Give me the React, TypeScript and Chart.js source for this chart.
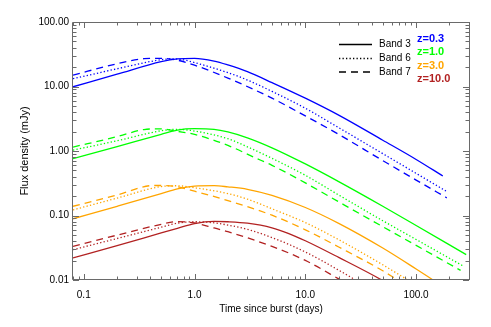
import React, { useEffect, useRef } from "react";
import { Chart, registerables } from "chart.js";

Chart.register(...registerables);

const FONT = '"Liberation Sans", Arial, Helvetica, sans-serif';

// Tick labels
const X_TICKS = [0.1, 1, 10, 100];
const X_TICK_LABELS = ["0.1", "1.0", "10.0", "100.0"];
const Y_TICKS = [0.01, 0.1, 1, 10, 100];
const Y_TICK_LABELS = ["0.01", "0.10", "1.00", "10.00", "100.00"];

const X_RANGE = [0.08, 300];
const Y_RANGE = [0.01, 100];

// Legend texts
const BANDS = ["Band 3", "Band 6", "Band 7"];
const REDSHIFTS = ["z=0.3", "z=1.0", "z=3.0", "z=10.0"];
const Z_COLORS = ["#0000ff", "#00ff00", "#ffa500", "#b22222"];

// Light curves: [time (days), flux density (mJy)]
const Z03_B3 = [[0.08, 9.9], [0.2, 15.5], [0.5, 24.3], [0.7, 26.8], [1, 27.3], [1.5, 24.8], [2, 21.6], [3, 17.0], [5, 11.5], [10, 6.6], [20, 3.6], [50, 1.47], [100, 0.74], [174, 0.41]];
const Z03_B6 = [[0.08, 13.2], [0.2, 18.8], [0.5, 26.0], [0.65, 26.8], [0.8, 25.8], [1, 23.5], [2, 16.4], [3, 12.6], [5, 8.4], [10, 4.6], [20, 2.3], [50, 0.91], [100, 0.45], [187, 0.238]];
const Z03_B7 = [[0.08, 15.0], [0.2, 22.5], [0.35, 27.0], [0.5, 27.3], [0.7, 25.6], [1, 21.4], [2, 13.5], [5, 6.6], [10, 3.5], [20, 1.81], [50, 0.71], [100, 0.354], [189, 0.188]];

const Z1_B3 = [[0.08, 0.76], [0.2, 1.17], [0.5, 1.81], [0.7, 2.11], [1, 2.22], [1.5, 2.17], [2, 1.98], [3, 1.6], [5, 1.12], [10, 0.63], [20, 0.335], [50, 0.139], [100, 0.07], [200, 0.035], [283, 0.0247]];
const Z1_B6 = [[0.08, 1.03], [0.2, 1.44], [0.5, 2.06], [0.7, 2.17], [1, 2.04], [2, 1.55], [3, 1.16], [5, 0.77], [10, 0.42], [20, 0.208], [50, 0.083], [100, 0.0425], [200, 0.0217], [264, 0.0166]];
const Z1_B7 = [[0.08, 1.15], [0.2, 1.67], [0.35, 2.15], [0.5, 2.21], [0.7, 2.02], [1, 1.81], [2, 1.22], [3.5, 0.79], [5, 0.6], [10, 0.32], [20, 0.163], [50, 0.067], [100, 0.0344], [252, 0.0141]];

const Z3_B3 = [[0.08, 0.089], [0.2, 0.139], [0.5, 0.218], [0.7, 0.258], [1, 0.285], [1.5, 0.29], [2, 0.278], [3, 0.255], [5, 0.205], [10, 0.133], [20, 0.0755], [50, 0.0313], [100, 0.0148], [142, 0.01], [200, 0.0068]];
const Z3_B6 = [[0.08, 0.122], [0.2, 0.186], [0.5, 0.281], [0.7, 0.289], [1, 0.269], [2, 0.219], [3, 0.179], [5, 0.127], [10, 0.0776], [20, 0.0422], [50, 0.0172], [84, 0.01], [100, 0.0083]];
const Z3_B7 = [[0.08, 0.139], [0.2, 0.208], [0.43, 0.292], [0.5, 0.292], [0.7, 0.279], [1, 0.238], [2, 0.17], [5, 0.101], [10, 0.06], [20, 0.0325], [50, 0.0139], [68, 0.01], [100, 0.0066]];

const Z10_B3 = [[0.08, 0.022], [0.2, 0.0341], [0.5, 0.0536], [0.7, 0.0632], [1, 0.075], [1.5, 0.081], [2, 0.08], [3, 0.076], [5, 0.0645], [7, 0.053], [10, 0.0406], [20, 0.0224], [50, 0.0098], [80, 0.006]];
const Z10_B6 = [[0.08, 0.0295], [0.2, 0.044], [0.5, 0.0658], [0.7, 0.0762], [1, 0.08], [1.5, 0.077], [2, 0.071], [3, 0.061], [5, 0.0455], [10, 0.0272], [20, 0.0142], [50, 0.0056]];
const Z10_B7 = [[0.08, 0.0332], [0.2, 0.0496], [0.5, 0.073], [0.7, 0.0805], [1, 0.0767], [1.5, 0.0641], [2, 0.056], [5, 0.0332], [10, 0.0201], [20, 0.0104], [50, 0.0042]];

const SERIES = [
  [Z03_B3, Z03_B6, Z03_B7],
  [Z1_B3, Z1_B6, Z1_B7],
  [Z3_B3, Z3_B6, Z3_B7],
  [Z10_B3, Z10_B6, Z10_B7],
];

const DASHES: number[][] = [[], [1.3, 2.2], [7, 5]];
const AXIS_COLOR = "#6a6a6a";
const LINE_W = 1.3;

const frameTicks = {
  id: "frameTicks",
  afterDatasetsDraw(chart: any) {
    const { ctx, chartArea, scales } = chart;
    const { left, right, top, bottom } = chartArea;
    const xs = scales.x;
    const ys = scales.y;
    ctx.save();
    ctx.strokeStyle = AXIS_COLOR;
    ctx.lineWidth = 1;
    ctx.setLineDash([]);
    ctx.beginPath();
    ctx.rect(left - 0.5, top + 0.5, right - left + 1, bottom - top - 1);
    ctx.stroke();
    const decades = [0.001, 0.01, 0.1, 1, 10, 100];
    ctx.beginPath();
    for (const d of decades) {
      for (let m = 1; m <= 9; m++) {
        const v = m * d;
        const L = m === 1 ? 6 : 3.5;
        if (v >= X_RANGE[0] - 1e-9 && v <= X_RANGE[1] + 1e-9) {
          const px = Math.round(xs.getPixelForValue(v)) + 0.5;
          ctx.moveTo(px, bottom);
          ctx.lineTo(px, bottom - L);
          ctx.moveTo(px, top);
          ctx.lineTo(px, top + L);
        }
        if (v >= Y_RANGE[0] - 1e-9 && v <= Y_RANGE[1] + 1e-9) {
          const py = Math.round(ys.getPixelForValue(v)) + 0.5;
          ctx.moveTo(left, py);
          ctx.lineTo(left + L, py);
          ctx.moveTo(right, py);
          ctx.lineTo(right - L, py);
        }
      }
    }
    ctx.stroke();
    ctx.restore();
  },
  afterDraw(chart: any) {
    const { ctx } = chart;
    ctx.save();
    ctx.textBaseline = "middle";
    ctx.textAlign = "left";
    const bandY = [44.5, 58.5, 72];
    ctx.strokeStyle = "#000";
    ctx.lineWidth = LINE_W;
    BANDS.forEach((b, i) => {
      ctx.setLineDash(DASHES[i]);
      ctx.beginPath();
      ctx.moveTo(339, bandY[i]);
      ctx.lineTo(372, bandY[i]);
      ctx.stroke();
      ctx.fillStyle = "#000";
      ctx.font = "10px " + FONT;
      ctx.fillText(b, 379, bandY[i]);
    });
    ctx.setLineDash([]);
    const zY = [38.5, 52, 65.5, 78.5];
    REDSHIFTS.forEach((z, i) => {
      ctx.fillStyle = Z_COLORS[i];
      ctx.font = "bold 11px " + FONT;
      ctx.fillText(z, 417, zY[i]);
    });
    ctx.restore();
  },
};

export default function App() {
  const ref = useRef<HTMLCanvasElement | null>(null);
  useEffect(() => {
    if (!ref.current) return;
    const datasets: any[] = [];
    SERIES.forEach((group, zi) => {
      group.forEach((pts, bi) => {
        datasets.push({
          label: REDSHIFTS[zi] + " " + BANDS[bi],
          data: pts.map(([t, f]) => ({ x: t, y: f })),
          borderColor: Z_COLORS[zi],
          backgroundColor: Z_COLORS[zi],
          borderWidth: LINE_W,
          borderDash: DASHES[bi],
          pointRadius: 0,
          fill: false,
          cubicInterpolationMode: "monotone",
        });
      });
    });
    const chart = new Chart(ref.current, {
      type: "line",
      data: { datasets },
      options: {
        animation: false,
        responsive: false,
        maintainAspectRatio: false,
        devicePixelRatio: 1,
        layout: { padding: { top: 22, right: 22, left: 0, bottom: 0 } },
        plugins: { legend: { display: false }, tooltip: { enabled: false } },
        scales: {
          x: {
            type: "logarithmic",
            position: "bottom",
            min: X_RANGE[0],
            max: X_RANGE[1],
            grid: { display: false, drawTicks: false },
            border: { display: false },
            afterBuildTicks: (s: any) => {
              s.ticks = X_TICKS.map((v) => ({ value: v }));
            },
            ticks: {
              autoSkip: false,
              maxRotation: 0,
              padding: 9,
              color: "#000",
              font: { size: 10, family: FONT },
              callback: (v: any) => X_TICK_LABELS[X_TICKS.indexOf(Number(v))] ?? "",
            },
            title: {
              display: true,
              text: "Time since burst (days)",
              color: "#000",
              font: { size: 10, family: FONT },
              padding: { top: 0, bottom: 12 },
            },
            afterFit: (s: any) => {
              s.height = 47;
            },
          },
          y: {
            type: "logarithmic",
            position: "left",
            min: Y_RANGE[0],
            max: Y_RANGE[1],
            grid: { display: false, drawTicks: false },
            border: { display: false },
            afterBuildTicks: (s: any) => {
              s.ticks = Y_TICKS.map((v) => ({ value: v }));
            },
            ticks: {
              autoSkip: false,
              padding: 4,
              color: "#000",
              font: { size: 10, family: FONT },
              callback: (v: any) => Y_TICK_LABELS[Y_TICKS.indexOf(Number(v))] ?? "",
            },
            title: {
              display: true,
              text: "Flux density (mJy)",
              color: "#000",
              font: { size: 11, family: FONT },
              padding: { top: 18, bottom: 0 },
            },
            afterFit: (s: any) => {
              s.width = 73;
            },
          },
        },
      },
      plugins: [frameTicks],
    });
    return () => chart.destroy();
  }, []);
  return (
    <div style={{ position: "absolute", left: 0, top: 0, width: 491, height: 327, background: "#fff" }}>
      <canvas ref={ref} width={491} height={327} style={{ display: "block" }} />
    </div>
  );
}
